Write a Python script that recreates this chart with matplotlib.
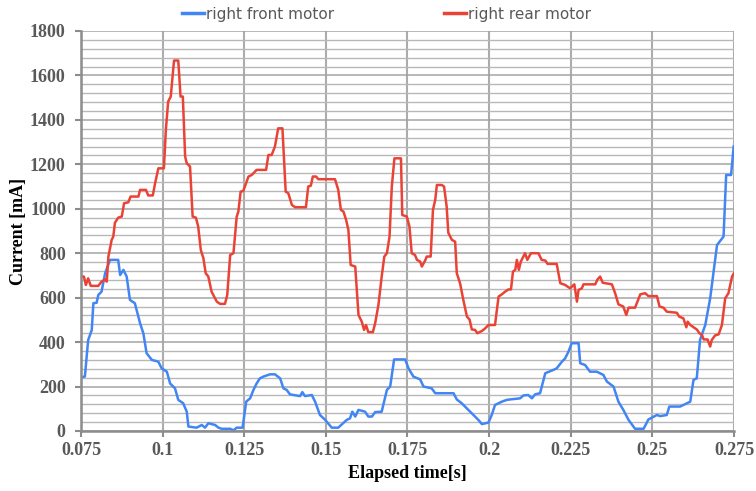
import matplotlib
matplotlib.use("Agg")
import matplotlib.pyplot as plt
from matplotlib.ticker import MultipleLocator, FixedLocator

# ---- data ----
front_t = [0.0752, 0.0762, 0.0772, 0.0783, 0.0788, 0.0798, 0.0803, 0.0813, 0.0824, 0.0839,
           0.0864, 0.0870, 0.0880, 0.0890, 0.0900, 0.0915, 0.0931, 0.0941, 0.0951, 0.0967,
           0.0987, 0.0997, 0.1013, 0.1023, 0.1038, 0.1048, 0.1063, 0.1074, 0.1079, 0.1104,
           0.1120, 0.1130, 0.1140, 0.1161, 0.1171, 0.1181, 0.1207, 0.1217, 0.1227, 0.1245,
           0.1256, 0.1268, 0.1278, 0.1288, 0.1298, 0.1309, 0.1329, 0.1344, 0.1360, 0.1370,
           0.1380, 0.1390, 0.1421, 0.1428, 0.1436, 0.1457, 0.1467, 0.1482, 0.1498, 0.1518,
           0.1538, 0.1564, 0.1574, 0.1581, 0.1590, 0.1600, 0.1620, 0.1630, 0.1641, 0.1651,
           0.1671, 0.1687, 0.1697, 0.1709, 0.1743, 0.1753, 0.1768, 0.1789, 0.1799, 0.1824,
           0.1835, 0.1891, 0.1901, 0.1916, 0.1952, 0.1967, 0.1978, 0.1998, 0.2008, 0.2018,
           0.2039, 0.2054, 0.2064, 0.2095, 0.2105, 0.2120, 0.2131, 0.2141, 0.2156, 0.2172,
           0.2197, 0.2207, 0.2223, 0.2233, 0.2243, 0.2253, 0.2274, 0.2279, 0.2294, 0.2309,
           0.2330, 0.2350, 0.2361, 0.2381, 0.2396, 0.2411, 0.2427, 0.2447, 0.2473, 0.2488,
           0.2514, 0.2524, 0.2544, 0.2552, 0.2585, 0.2606, 0.2616, 0.2626, 0.2636, 0.2646,
           0.2662, 0.2677, 0.2698, 0.2718, 0.2726, 0.2741, 0.2749]
front_mA = [242, 245, 409, 454, 575, 577, 612, 627, 710, 770,
            770, 702, 725, 695, 590, 575, 485, 440, 350, 320,
            312, 282, 267, 214, 192, 140, 125, 87, 20, 15,
            27, 15, 35, 27, 15, 10, 10, 3, 15, 15,
            132, 147, 184, 214, 237, 245, 255, 255, 237, 192,
            185, 165, 157, 175, 157, 162, 132, 72, 50, 15,
            15, 50, 57, 87, 65, 95, 87, 65, 65, 85,
            87, 185, 200, 322, 322, 282, 245, 232, 200, 192,
            170, 170, 142, 125, 72, 50, 31, 38, 72, 117,
            132, 140, 142, 147, 160, 162, 147, 165, 170, 260,
            275, 282, 312, 327, 357, 395, 395, 305, 297, 267,
            267, 252, 222, 200, 132, 95, 50, 10, 10, 52,
            72, 67, 72, 110, 110, 125, 132, 230, 237, 410,
            477, 597, 837, 875, 1152, 1152, 1280]

rear_t = [0.0752, 0.0759, 0.0765, 0.0772, 0.0780, 0.0803, 0.0813, 0.0824, 0.0829, 0.0834,
          0.0844, 0.0849, 0.0854, 0.0864, 0.0875, 0.0882, 0.0895, 0.0902, 0.0926, 0.0931,
          0.0949, 0.0956, 0.0970, 0.0977, 0.0987, 0.1004, 0.1010, 0.1017, 0.1025, 0.1035,
          0.1048, 0.1055, 0.1062, 0.1069, 0.1074, 0.1084, 0.1092, 0.1102, 0.1109, 0.1117,
          0.1125, 0.1132, 0.1140, 0.1150, 0.1166, 0.1176, 0.1191, 0.1198, 0.1207, 0.1217,
          0.1227, 0.1232, 0.1239, 0.1247, 0.1263, 0.1273, 0.1288, 0.1317, 0.1324, 0.1334,
          0.1344, 0.1354, 0.1367, 0.1377, 0.1385, 0.1396, 0.1406, 0.1439, 0.1446, 0.1454,
          0.1460, 0.1470, 0.1477, 0.1528, 0.1538, 0.1546, 0.1554, 0.1562, 0.1569, 0.1576,
          0.1590, 0.1600, 0.1610, 0.1617, 0.1623, 0.1630, 0.1644, 0.1651, 0.1661, 0.1671,
          0.1679, 0.1687, 0.1695, 0.1702, 0.1710, 0.1730, 0.1734, 0.1748, 0.1756, 0.1763,
          0.1773, 0.1779, 0.1789, 0.1794, 0.1804, 0.1809, 0.1821, 0.1828, 0.1835, 0.1840,
          0.1855, 0.1862, 0.1870, 0.1875, 0.1886, 0.1896, 0.1901, 0.1911, 0.1921, 0.1932,
          0.1940, 0.1947, 0.1957, 0.1964, 0.1978, 0.1988, 0.1998, 0.2018, 0.2029, 0.2039,
          0.2049, 0.2059, 0.2067, 0.2073, 0.2080, 0.2085, 0.2091, 0.2097, 0.2110, 0.2117,
          0.2128, 0.2151, 0.2161, 0.2172, 0.2179, 0.2207, 0.2218, 0.2233, 0.2248, 0.2261,
          0.2269, 0.2274, 0.2284, 0.2289, 0.2325, 0.2332, 0.2340, 0.2348, 0.2376, 0.2386,
          0.2396, 0.2411, 0.2420, 0.2427, 0.2447, 0.2463, 0.2478, 0.2488, 0.2514, 0.2522,
          0.2534, 0.2544, 0.2575, 0.2582, 0.2595, 0.2604, 0.2608, 0.2616, 0.2626, 0.2636,
          0.2644, 0.2652, 0.2657, 0.2669, 0.2677, 0.2682, 0.2692, 0.2703, 0.2713, 0.2723,
          0.2733, 0.2744, 0.2750]
rear_mA = [695, 695, 657, 687, 653, 653, 672, 682, 672, 785,
           860, 875, 937, 960, 965, 1025, 1029, 1055, 1055, 1085,
           1085, 1060, 1060, 1115, 1182, 1182, 1355, 1482, 1505, 1667,
           1667, 1505, 1505, 1235, 1205, 1190, 965, 960, 920, 815,
           777, 710, 695, 627, 582, 572, 572, 612, 792, 800,
           965, 987, 1077, 1080, 1145, 1152, 1175, 1175, 1242, 1242,
           1280, 1362, 1362, 1077, 1070, 1017, 1007, 1007, 1100, 1104,
           1145, 1145, 1133, 1133, 1085, 995, 987, 950, 905, 747,
           740, 522, 492, 455, 477, 445, 445, 485, 567, 695,
           785, 800, 875, 1100, 1227, 1227, 972, 965, 920, 800,
           792, 770, 762, 740, 767, 785, 785, 995, 1040, 1107,
           1107, 1100, 1010, 892, 860, 852, 710, 665, 590, 515,
           502, 457, 455, 440, 450, 462, 477, 477, 605, 615,
           627, 637, 637, 717, 725, 770, 725, 762, 800, 770,
           800, 800, 770, 767, 752, 752, 665, 657, 642, 660,
           582, 635, 642, 660, 660, 682, 695, 667, 660, 620,
           570, 560, 522, 555, 555, 615, 620, 607, 607, 560,
           555, 537, 532, 515, 507, 467, 492, 477, 467, 457,
           440, 432, 412, 412, 380, 410, 430, 435, 477, 597,
           620, 695, 710]

x_ticks = [0.075, 0.1, 0.125, 0.15, 0.175, 0.2, 0.225, 0.25, 0.275]
x_ticklabels = ["0.075", "0.1", "0.125", "0.15", "0.175", "0.2", "0.225", "0.25", "0.275"]
y_ticks = [0, 200, 400, 600, 800, 1000, 1200, 1400, 1600, 1800]

series_names = ["right front motor", "right rear motor"]
blue = "#4285F4"
red = "#EA4335"

# ---- figure ----
fig = plt.figure(figsize=(7.56, 4.91), dpi=100)
ax = fig.add_axes([0.1071, 0.1222, 0.8638, 0.8147])

ax.plot(front_t, front_mA, color=blue, lw=1.8, label=series_names[0], zorder=3)
ax.plot(rear_t, rear_mA, color=red, lw=1.8, label=series_names[1], zorder=3)

ax.set_xlim(0.075, 0.275)
ax.set_ylim(0, 1800)
ax.xaxis.set_major_locator(FixedLocator(x_ticks))
ax.set_xticklabels(x_ticklabels)
ax.yaxis.set_major_locator(FixedLocator(y_ticks))
ax.yaxis.set_minor_locator(MultipleLocator(40))

ax.grid(True, which="major", axis="y", color="#a4a4a4", lw=1.1, zorder=0)
ax.grid(True, which="minor", axis="y", color="#b8b8b8", lw=1.0, zorder=0)
ax.grid(True, which="major", axis="x", color="#acacac", lw=1.5, zorder=0)
ax.set_axisbelow(True)

for s in ["top", "right"]:
    ax.spines[s].set_visible(False)
for s in ["left", "bottom"]:
    ax.spines[s].set_color("#8c8c8c")
    ax.spines[s].set_linewidth(1.8)
    ax.spines[s].set_zorder(4)

ax.tick_params(axis="both", which="major", direction="out", length=4, width=1.5,
               color="#8c8c8c", labelcolor="#595959")
ax.tick_params(axis="x", which="major", pad=4)
ax.tick_params(axis="y", which="major", pad=7)
ax.tick_params(axis="y", which="minor", length=0)
for lab in ax.get_xticklabels() + ax.get_yticklabels():
    lab.set_fontfamily("Liberation Serif")
    lab.set_fontweight("bold")
    lab.set_fontsize(13)

ax.set_xlabel("Elapsed time[s]", fontfamily="Liberation Serif", fontweight="bold",
              fontsize=13, color="black", labelpad=4)
ax.set_ylabel("Current [mA]", fontfamily="Liberation Serif", fontweight="bold",
              fontsize=13, color="black", labelpad=2)

leg = ax.legend(loc="center", bbox_to_anchor=(0.511, 0.971), bbox_transform=fig.transFigure,
                ncol=2, frameon=False, handlelength=1.45, handletextpad=0.1,
                columnspacing=7.2, borderpad=0,
                prop=dict(family="DejaVu Sans", size=11))
for t in leg.get_texts():
    t.set_color("#595959")
for h in leg.get_lines():
    h.set_linewidth(2.5)

fig.savefig("out.png", dpi=100)
